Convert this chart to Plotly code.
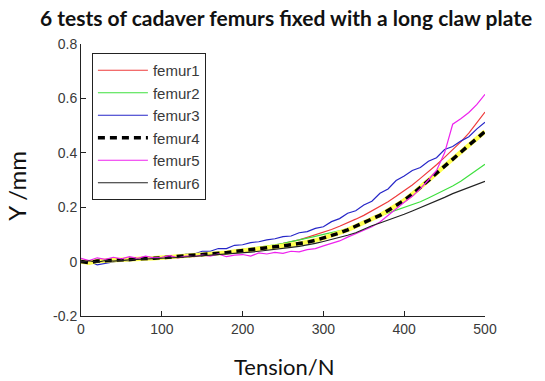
import plotly.graph_objects as go

tension = list(range(0, 501, 10))

femur1 = [0.000, 0.002, 0.004, 0.003, 0.006, 0.007, 0.008, 0.010, 0.011, 0.013,
          0.014, 0.016, 0.018, 0.020, 0.022, 0.024, 0.027, 0.029, 0.033, 0.037,
          0.042, 0.046, 0.050, 0.055, 0.060, 0.066, 0.073, 0.080, 0.089, 0.098,
          0.108, 0.118, 0.130, 0.142, 0.156, 0.170, 0.186, 0.203, 0.220, 0.240,
          0.260, 0.282, 0.306, 0.330, 0.356, 0.383, 0.410, 0.440, 0.472, 0.510,
          0.550]

femur2 = [0.000, 0.003, 0.002, 0.005, 0.006, 0.008, 0.009, 0.010, 0.012, 0.013,
          0.015, 0.017, 0.019, 0.021, 0.023, 0.026, 0.029, 0.032, 0.036, 0.040,
          0.044, 0.048, 0.052, 0.057, 0.062, 0.067, 0.073, 0.079, 0.086, 0.093,
          0.100, 0.106, 0.113, 0.121, 0.130, 0.140, 0.158, 0.168, 0.178, 0.188,
          0.198, 0.208, 0.220, 0.234, 0.248, 0.262, 0.278, 0.295, 0.315, 0.335,
          0.358]

femur3 = [-0.004, 0.002, -0.012, -0.006, 0.000, 0.004, 0.002, 0.008, 0.006, 0.012,
          0.014, 0.020, 0.018, 0.028, 0.028, 0.038, 0.038, 0.048, 0.048, 0.060,
          0.062, 0.070, 0.073, 0.080, 0.084, 0.092, 0.094, 0.106, 0.110, 0.122,
          0.128, 0.147, 0.158, 0.178, 0.187, 0.208, 0.222, 0.251, 0.267, 0.298,
          0.315, 0.335, 0.346, 0.369, 0.382, 0.412, 0.423, 0.443, 0.459, 0.488,
          0.512]

femur4 = [0.000, -0.004, 0.002, 0.004, 0.003, 0.006, 0.008, 0.009, 0.011, 0.012,
          0.014, 0.016, 0.018, 0.020, 0.022, 0.025, 0.027, 0.030, 0.033, 0.037,
          0.040, 0.043, 0.047, 0.050, 0.054, 0.058, 0.062, 0.066, 0.071, 0.078,
          0.086, 0.095, 0.105, 0.117, 0.130, 0.142, 0.154, 0.170, 0.188, 0.206,
          0.225, 0.248, 0.272, 0.298, 0.325, 0.352, 0.378, 0.402, 0.428, 0.452,
          0.478]

femur5 = [0.012, 0.004, 0.014, 0.008, 0.016, 0.010, 0.018, 0.012, 0.020, 0.014,
          0.016, 0.022, 0.014, 0.020, 0.018, 0.024, 0.020, 0.028, 0.018, 0.024,
          0.026, 0.020, 0.032, 0.028, 0.034, 0.030, 0.038, 0.036, 0.044, 0.048,
          0.058, 0.066, 0.076, 0.090, 0.102, 0.116, 0.128, 0.146, 0.170, 0.196,
          0.218, 0.240, 0.268, 0.300, 0.335, 0.400, 0.505, 0.525, 0.548, 0.578,
          0.615]

femur6 = [-0.002, 0.003, -0.003, 0.004, 0.002, 0.005, 0.006, 0.008, 0.009, 0.011,
          0.012, 0.014, 0.015, 0.017, 0.019, 0.021, 0.023, 0.025, 0.027, 0.030,
          0.032, 0.035, 0.038, 0.041, 0.044, 0.048, 0.052, 0.056, 0.061, 0.067,
          0.074, 0.081, 0.088, 0.097, 0.106, 0.120, 0.132, 0.142, 0.152, 0.163,
          0.174, 0.186, 0.198, 0.210, 0.222, 0.236, 0.250, 0.262, 0.272, 0.284,
          0.295]

x_ticks = [0, 100, 200, 300, 400, 500]
y_ticks = [-0.2, 0, 0.2, 0.4, 0.6, 0.8]
y_tick_text = ["-0.2", "0", "0.2", "0.4", "0.6", "0.8"]

fig = go.Figure()

fig.add_trace(go.Scatter(x=tension, y=femur1, mode="lines", name="femur1",
                         line=dict(color="#ee3b3b", width=1.2)))
fig.add_trace(go.Scatter(x=tension, y=femur2, mode="lines", name="femur2",
                         line=dict(color="#3ee03e", width=1.2)))
fig.add_trace(go.Scatter(x=tension, y=femur3, mode="lines", name="femur3",
                         line=dict(color="#2626c8", width=1.2)))
fig.add_trace(go.Scatter(x=tension, y=femur4, mode="lines", showlegend=False,
                         line=dict(color="#ffff50", width=4.5), hoverinfo="skip"))
fig.add_trace(go.Scatter(x=tension, y=femur4, mode="lines", name="femur4",
                         line=dict(color="#000000", width=3.5, dash="7px,5px")))
fig.add_trace(go.Scatter(x=tension, y=femur5, mode="lines", name="femur5",
                         line=dict(color="#ee22ee", width=1.2)))
fig.add_trace(go.Scatter(x=tension, y=femur6, mode="lines", name="femur6",
                         line=dict(color="#222222", width=1.2)))

tickfont = dict(family="Liberation Sans, Arial", size=14, color="#3a3a3a")

fig.update_layout(
    width=545, height=381,
    margin=dict(l=81, r=60, t=44, b=65),
    paper_bgcolor="white", plot_bgcolor="white",
    showlegend=True,
    legend=dict(x=0.027, y=0.967, xanchor="left", yanchor="top",
                bordercolor="#222222", borderwidth=1, bgcolor="white",
                font=dict(family="Liberation Sans, Arial", size=15, color="#3a3a3a"),
                tracegroupgap=0, itemwidth=50),
    xaxis=dict(range=[0, 500], tickvals=x_ticks, showgrid=False, zeroline=False,
               showline=True, linecolor="#222222", linewidth=1,
               ticks="inside", ticklen=5, tickcolor="#222222",
               tickfont=tickfont),
    yaxis=dict(range=[-0.2, 0.8], tickvals=y_ticks, ticktext=y_tick_text,
               showgrid=False, zeroline=False,
               showline=True, linecolor="#222222", linewidth=1,
               ticks="inside", ticklen=5, tickcolor="#222222",
               tickfont=tickfont),
    annotations=[
        dict(text="<b>6 tests of cadaver femurs fixed with a long claw plate</b>",
             xref="paper", yref="paper", x=0.508, y=1.096,
             xanchor="center", yanchor="middle", showarrow=False,
             font=dict(family="Lato", size=21, color="#111111")),
        dict(text="Y /mm", xref="paper", yref="paper", x=-0.16, y=0.48,
             xanchor="center", yanchor="middle", textangle=-90, showarrow=False,
             font=dict(family="Lato", size=24, color="#111111")),
        dict(text="Tension/N", xref="paper", yref="paper", x=0.504, y=-0.185,
             xanchor="center", yanchor="middle", showarrow=False,
             font=dict(family="Lato", size=22, color="#111111")),
    ],
)

fig.write_html("out.html")
